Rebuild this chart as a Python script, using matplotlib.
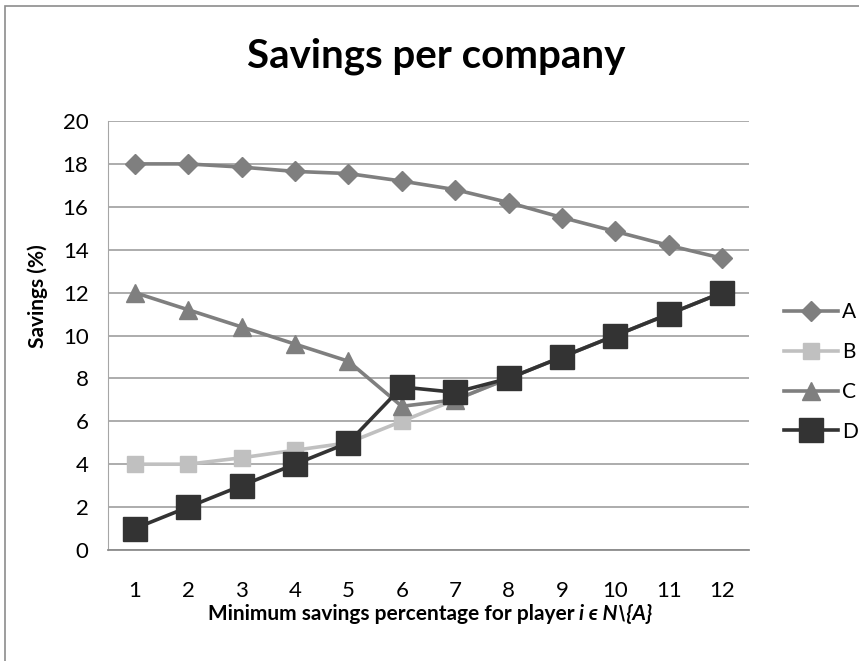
import matplotlib
matplotlib.use("Agg")
import matplotlib.pyplot as plt
from matplotlib.patches import Rectangle

# ---- data ----
x_vals = [1, 2, 3, 4, 5, 6, 7, 8, 9, 10, 11, 12]
series_A = [18.0, 18.0, 17.85, 17.65, 17.55, 17.2, 16.8, 16.2, 15.5, 14.85, 14.2, 13.6]
series_B = [4.0, 4.0, 4.3, 4.65, 5.0, 6.0, 7.0, 8.0, 9.0, 10.0, 11.0, 12.0]
series_C = [12.0, 11.2, 10.4, 9.6, 8.8, 6.7, 7.0, 8.0, 9.0, 10.0, 11.0, 12.0]
series_D = [1.0, 2.0, 3.0, 4.0, 5.0, 7.6, 7.35, 8.0, 9.0, 10.0, 11.0, 12.0]
series_names = ["A", "B", "C", "D"]
y_ticks = [0, 2, 4, 6, 8, 10, 12, 14, 16, 18, 20]

plt.rcParams['font.family'] = ['Lato', 'DejaVu Sans']

W, H = 859, 661
fig = plt.figure(figsize=(W / 100, H / 100), dpi=100)

def px(x0, y0, x1, y1):
    return [x0 / W, 1 - y1 / H, (x1 - x0) / W, (y1 - y0) / H]

ax = fig.add_axes(px(108, 121, 749, 550))

# outer chart border (only top and left visible)
fig.patches.append(Rectangle((4.5 / W, -0.1), 1.2, (1 - 6 / H) + 0.1,
                             transform=fig.transFigure, fill=False,
                             edgecolor='#8c8c8c', linewidth=1.2))

styles = [
    dict(color='#7f7f7f', marker='D', markersize=10),
    dict(color='#c0c0c0', marker='s', markersize=12),
    dict(color='#7f7f7f', marker='^', markersize=13),
    dict(color='#333333', marker='s', markersize=17),
]
data = [series_A, series_B, series_C, series_D]
for name, ys, st in zip(series_names, data, styles):
    ax.plot(x_vals, ys, linewidth=2.6, label=name, zorder=3, **st)

ax.set_xlim(0.5, 12.5)
ax.set_ylim(0, 20)
ax.set_yticks(y_ticks)
ax.set_xticks(x_vals)
ax.set_xticklabels([str(v) for v in x_vals])
ax.yaxis.grid(True, color='#a6a6a6', linewidth=1.3)
ax.set_axisbelow(True)
ax.tick_params(axis='both', length=0, labelsize=16, colors='black')
ax.tick_params(axis='x', pad=22)
ax.tick_params(axis='y', pad=14)
for s in ['top', 'right']:
    ax.spines[s].set_visible(False)
ax.spines['left'].set_color('#a6a6a6')
ax.spines['bottom'].set_color('#8c8c8c')
ax.spines['bottom'].set_linewidth(1.3)

# title
fig.text(436 / W, 1 - 56 / H, "Savings per company", ha='center', va='center',
         fontsize=29, fontweight='bold')

# y label
fig.text(38 / W, 1 - 296 / H, "Savings (%)", rotation=90, ha='center', va='center',
         fontsize=15, fontweight='bold')

# x label with italic part
fig.canvas.draw()
renderer = fig.canvas.get_renderer()
t1 = fig.text(0, 1 - 614 / H, "Minimum savings percentage for player ", ha='left',
              va='center', fontsize=15, fontweight='bold')
t2 = fig.text(0, 1 - 614 / H, "i ϵ N\\{A}", ha='left', va='center', fontsize=15,
              fontweight='bold', fontstyle='italic')
w1 = t1.get_window_extent(renderer).width
w2 = t2.get_window_extent(renderer).width
start = 430 - (w1 + w2) / 2
t1.set_x(start / W)
t2.set_x((start + w1) / W)

# legend
handles, labels = ax.get_legend_handles_labels()
leg = fig.legend(handles, labels, loc='center left',
                 bbox_to_anchor=(784 / W, 1 - 372 / H), frameon=False,
                 fontsize=15, labelspacing=0.95, handlelength=2.6,
                 handletextpad=0.2, borderaxespad=0, borderpad=0)

fig.savefig("out.png", dpi=100)
